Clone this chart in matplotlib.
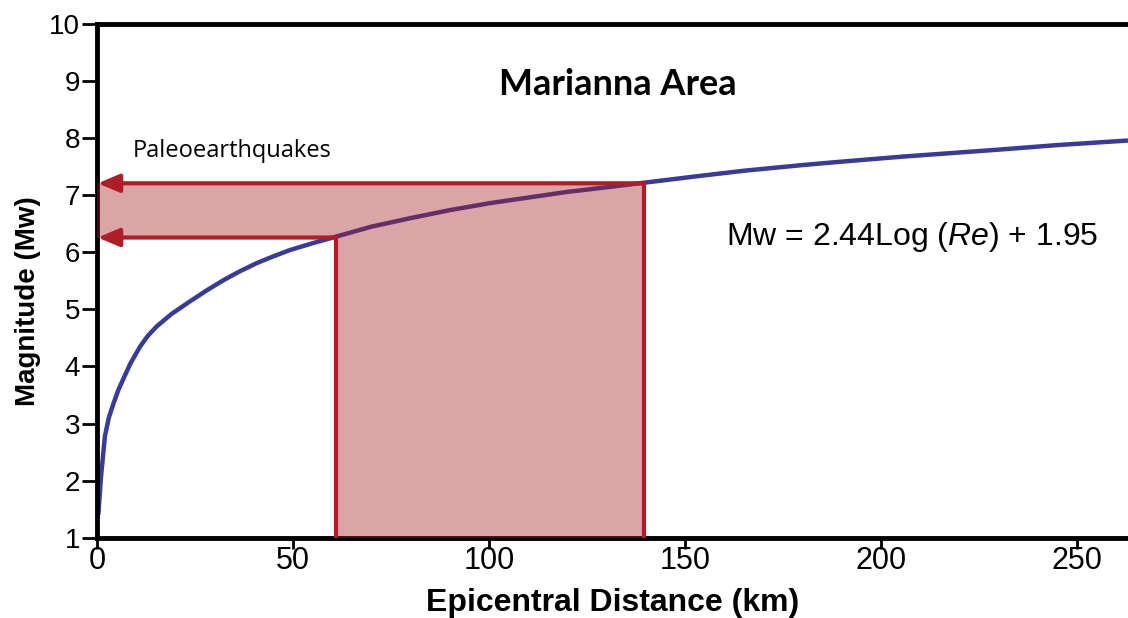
import matplotlib
matplotlib.use("Agg")
from matplotlib import pyplot as plt

# curve (km, Mw)
dist_km = [0.33, 1.0, 2.0, 3.0, 4.2, 5.4, 6.7, 8.5, 11.0, 13.0, 15.2, 19.0, 23.7,
           27.9, 32.2, 36.5, 40.7, 45.0, 49.2, 55.0, 60.7, 70.0, 80.0, 90.0,
           100.0, 110.0, 120.0, 130.0, 139.5, 153.8, 165.0, 180.0, 190.0,
           205.9, 230.0, 245.0, 263.0]
mag_mw = [1.40, 2.05, 2.77, 3.10, 3.35, 3.58, 3.78, 4.05, 4.35, 4.54, 4.70, 4.92,
          5.14, 5.33, 5.51, 5.67, 5.81, 5.93, 6.04, 6.16, 6.27, 6.45, 6.60, 6.74,
          6.86, 6.96, 7.06, 7.14, 7.22, 7.34, 7.43, 7.53, 7.59,
          7.68, 7.80, 7.88, 7.96]

# paleoearthquake range
re_low, re_high = 61.0, 139.5
mw_low, mw_high = 6.26, 7.21

xticks = [0, 50, 100, 150, 200, 250]
yticks = [1, 2, 3, 4, 5, 6, 7, 8, 9, 10]

blue = "#3a3a98"
red = "#ad1f26"

plt.rcParams["mathtext.fontset"] = "custom"
plt.rcParams["mathtext.it"] = "Liberation Sans:italic"
plt.rcParams["mathtext.rm"] = "Liberation Sans"

fig = plt.figure(figsize=(11.28, 6.18), dpi=100)
ax = fig.add_axes([0.086, 0.130, 0.914, 0.831])

ax.plot(dist_km, mag_mw, color=blue, lw=3.2, solid_capstyle="butt",
        solid_joinstyle="round", zorder=2)

# shaded L-shaped region
poly_x = [0, re_low, re_low, re_high, re_high, 0]
poly_y = [mw_low, mw_low, 1, 1, mw_high, mw_high]
ax.fill(poly_x, poly_y, color="#a51e23", alpha=0.4, lw=0, zorder=3)

# red lines
ax.plot([re_low, re_low], [1, mw_low], color=red, lw=3.0, zorder=4)
ax.plot([re_high, re_high], [1, mw_high], color=red, lw=3.0, zorder=4)
for yy, xx in [(mw_high, re_high), (mw_low, re_low)]:
    ax.annotate("", xy=(0.2, yy), xytext=(xx, yy),
                arrowprops=dict(arrowstyle="-|>,head_length=1.3,head_width=0.55",
                                color=red, lw=3.0, shrinkA=0, shrinkB=0),
                zorder=4)

ax.set_xlim(0, 263)
ax.set_ylim(1, 10)
ax.set_xticks(xticks)
ax.set_yticks(yticks)

for s in ["left", "top", "bottom"]:
    ax.spines[s].set_linewidth(3.5)
    ax.spines[s].set_color("black")
ax.spines["right"].set_visible(False)

ax.tick_params(axis="x", direction="out", length=8, width=2, pad=-2,
               labelsize=22)
ax.tick_params(axis="y", direction="out", length=11, width=2, pad=1,
               labelsize=20)
for lab in ax.get_xticklabels() + ax.get_yticklabels():
    lab.set_family("Liberation Sans")

ax.set_xlabel("Epicentral Distance (km)", fontsize=23, fontweight="bold",
              family="Liberation Sans", labelpad=9)
ax.set_ylabel("Magnitude (Mw)", fontsize=20, fontweight="bold",
              family="Liberation Sans")
ax.yaxis.set_label_coords(-0.054, 0.46)

ax.text(0.505, 0.883, "Marianna Area", transform=ax.transAxes, ha="center",
        va="center", fontsize=26, fontweight="bold",
        family=["Liberation Sans Narrow", "Lato", "DejaVu Sans"])
ax.text(9, 7.78, "Paleoearthquakes", fontsize=17, ha="left", va="center",
        family=["Open Sans", "DejaVu Sans"])
ax.text(208, 6.27, "Mw = 2.44Log ($\\it{Re}$) + 1.95", fontsize=23,
        ha="center", va="center", family="Liberation Sans")

plt.savefig("out.png", dpi=100)
